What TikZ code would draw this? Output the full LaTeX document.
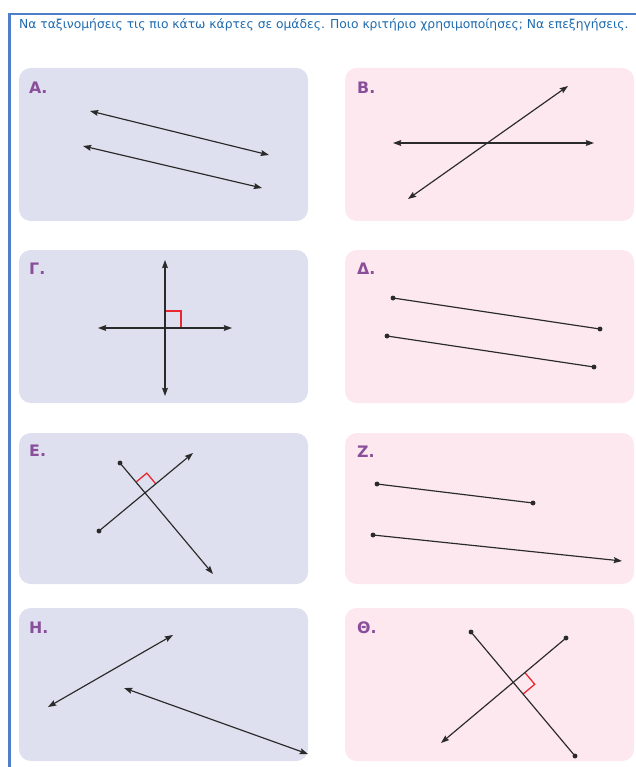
\documentclass[tikz,border=0pt]{standalone}
\usepackage{fontspec}
\setmainfont{DejaVu Sans}
\usetikzlibrary{arrows.meta,calc}

\definecolor{framebl}{HTML}{4F7FC8}
\definecolor{titlebl}{HTML}{1E6AAE}
\definecolor{lavcard}{HTML}{DFE0EF}
\definecolor{pinkcard}{HTML}{FDE8F0}
\definecolor{lblpurple}{HTML}{8A4F9A}
\definecolor{rtred}{HTML}{E8282E}
\definecolor{inkgray}{HTML}{2A2A2A}

\begin{document}
\begin{tikzpicture}[
  x=0.03cm, y=-0.03cm,
  lav/.style={fill=lavcard, rounded corners=10pt},
  pnk/.style={fill=pinkcard, rounded corners=10pt},
  lbl/.style={anchor=west, inner sep=0pt, text=lblpurple, font=\fontsize{13.5}{15}\selectfont\bfseries},
  ln/.style={draw=inkgray, line width=1pt},
  both/.style={ln, {Stealth[length=7pt,width=5pt,inset=1pt]}-{Stealth[length=7pt,width=5pt,inset=1pt]}},
  ray/.style={ln, -{Stealth[length=7pt,width=5pt,inset=1pt]}},
  rt/.style={draw=rtred, line width=1.1pt},
  dot/.style={fill=inkgray}
]
\useasboundingbox (0,0) rectangle (635,767);

% frame and task
\draw[framebl, line width=2pt] (9.5,767) -- (9.5,14) -- (640,14);
\node[anchor=base west, inner sep=0pt, text=titlebl, font=\fontsize{10.5}{12}\selectfont] (task) at (19,28.5)
  {Να ταξινομήσεις τις πιο κάτω κάρτες σε ομάδες. Ποιο κριτήριο χρησιμοποίησες; Να επεξηγήσεις.};

% cards
\path[lav] (19,68) rectangle (308,221);
\path[pnk] (345,68) rectangle (634,221);
\path[lav] (19,250) rectangle (308,403);
\path[pnk] (345,250) rectangle (634,403);
\path[lav] (19,433) rectangle (308,584);
\path[pnk] (345,433) rectangle (634,584);
\path[lav] (19,608) rectangle (308,761);
\path[pnk] (345,608) rectangle (634,761);

\node[lbl] (labA) at (29,88) {Α.};
\node[lbl] (labB) at (357,88) {Β.};
\node[lbl] (labG) at (29,269) {Γ.};
\node[lbl] (labD) at (357,269) {Δ.};
\node[lbl] (labE) at (29,451) {Ε.};
\node[lbl] (labZ) at (357,452) {Ζ.};
\node[lbl] (labH) at (29,628) {Η.};
\node[lbl] (labT) at (357,628) {Θ.};

% A: two parallel lines
\coordinate (a1s) at (90,111);  \coordinate (a1e) at (269,155);
\coordinate (a2s) at (83,146);  \coordinate (a2e) at (262,188);
\draw[both] (a1s) -- (a1e);
\draw[both] (a2s) -- (a2e);

% B: two crossing lines
\coordinate (b1s) at (393,143); \coordinate (b1e) at (594,143);
\coordinate (b2s) at (408,199); \coordinate (b2e) at (568,86);
\draw[both] (b1s) -- (b1e);
\draw[both] (b2s) -- (b2e);

% Gamma: perpendicular lines
\coordinate (g1s) at (165,260); \coordinate (g1e) at (165,396);
\coordinate (g2s) at (98,328);  \coordinate (g2e) at (232,328);
\draw[rt] (166,311) -- (181,311) -- (181,327);
\draw[both] (g1s) -- (g1e);
\draw[both] (g2s) -- (g2e);

% Delta: parallel segments
\coordinate (d1s) at (393,298); \coordinate (d1e) at (600,329);
\coordinate (d2s) at (387,336); \coordinate (d2e) at (594,367);
\draw[ln] (d1s) -- (d1e);
\draw[ln] (d2s) -- (d2e);
\foreach \p in {d1s,d1e,d2s,d2e} \fill[dot] (\p) circle (2.1pt);

% E: perpendicular rays
\coordinate (e1s) at (99,531);  \coordinate (e1e) at (193,453);
\coordinate (e2s) at (120,463); \coordinate (e2e) at (213,574);
\coordinate (ex) at (intersection of e1s--e1e and e2s--e2e);
\draw[rt] ($(ex)!12pt!(e2s)$) -- ($(ex)!12pt!(e2s)+(ex)!12pt!(e1e)-(ex)$) -- ($(ex)!12pt!(e1e)$);
\draw[ray] (e1s) -- (e1e);
\draw[ray] (e2s) -- (e2e);
\foreach \p in {e1s,e2s} \fill[dot] (\p) circle (2.1pt);

% Z: segment and ray
\coordinate (z1s) at (377,484); \coordinate (z1e) at (533,503);
\coordinate (z2s) at (373,535); \coordinate (z2e) at (622,561);
\draw[ln] (z1s) -- (z1e);
\draw[ray] (z2s) -- (z2e);
\foreach \p in {z1s,z1e,z2s} \fill[dot] (\p) circle (2.1pt);

% H: two lines
\coordinate (h1s) at (48,707);  \coordinate (h1e) at (173,635);
\coordinate (h2s) at (124,688); \coordinate (h2e) at (308,754);
\draw[both] (h1s) -- (h1e);
\draw[both] (h2s) -- (h2e);

% Theta: segment and ray, perpendicular
\coordinate (t1s) at (471,632); \coordinate (t1e) at (575,756);
\coordinate (t2s) at (566,638); \coordinate (t2e) at (441,743);
\coordinate (tx) at (intersection of t1s--t1e and t2s--t2e);
\draw[rt] ($(tx)!13pt!(t2s)$) -- ($(tx)!13pt!(t2s)+(tx)!13pt!(t1e)-(tx)$) -- ($(tx)!13pt!(t1e)$);
\draw[ln] (t1s) -- (t1e);
\draw[ray] (t2s) -- (t2e);
\foreach \p in {t1s,t1e,t2s} \fill[dot] (\p) circle (2.1pt);
\end{tikzpicture}
\end{document}
